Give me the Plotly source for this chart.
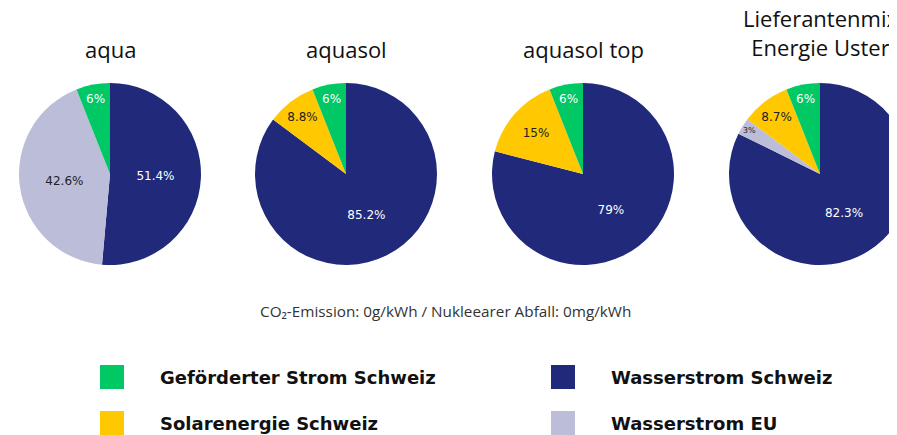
import plotly.graph_objects as go

# The page body adds an 8px offset; positions below are given in reference pixels
OFF = 8
W, H = 920, 435

categories = ["Wasserstrom Schweiz", "Wasserstrom EU", "Solarenergie Schweiz", "Geförderter Strom Schweiz"]
colors = ["#212A7A", "#BCBDD9", "#FFC800", "#00C864"]
text_colors = ["white", "#222222", "#222222", "white"]

products = ["aqua", "aquasol", "aquasol top", "Lieferantenmix<br>Energie Uster"]
aqua = [51.4, 42.6, 0, 6]
aquasol = [85.2, 0, 8.8, 6]
aquasol_top = [79, 0, 15, 6]
lieferantenmix = [82.3, 3, 8.7, 6]
series = [aqua, aquasol, aquasol_top, lieferantenmix]

subtitle = "CO₂-Emission: 0g/kWh / Nukleearer Abfall: 0mg/kWh"
legend_order = ["Geförderter Strom Schweiz", "Wasserstrom Schweiz", "Solarenergie Schweiz", "Wasserstrom EU"]


def px(x):
    return (x - OFF) / W


def py(y):
    return 1 - (y - OFF) / H


def fmt(v):
    return ("%g" % v) + "%"


centers_x = [110, 346, 583, 820]
cy = 174
R = 91

fig = go.Figure()
for i, vals in enumerate(series):
    cx = centers_x[i]
    fig.add_trace(go.Pie(
        values=vals,
        labels=categories,
        text=[fmt(v) for v in vals],
        textinfo="text",
        textposition="inside",
        insidetextorientation="horizontal",
        sort=False,
        direction="clockwise",
        rotation=0,
        marker=dict(colors=colors, line=dict(width=0)),
        insidetextfont=dict(color=text_colors, size=12, family="DejaVu Sans"),
        domain=dict(x=[px(cx - R), px(cx + R)], y=[py(cy + R), py(cy - R)]),
        showlegend=False,
        hoverinfo="label+percent",
    ))
    two_lines = "<br>" in products[i]
    fig.add_annotation(
        text=products[i], x=px(cx), y=py(64 if two_lines else 66),
        xref="paper", yref="paper", xanchor="center", yanchor="bottom",
        showarrow=False, font=dict(size=22, family="Open Sans", color="#111111"),
    )

fig.add_annotation(
    text=subtitle, x=px(445), y=py(311), xref="paper", yref="paper",
    xanchor="center", yanchor="middle", showarrow=False,
    font=dict(size=15.3, family="Open Sans", color="#333333"),
)

leg_pos = [(100, 158, 377), (551, 609, 377), (100, 158, 423), (551, 609, 423)]
for name, (sx, tx, ly) in zip(legend_order, leg_pos):
    c = colors[categories.index(name)]
    fig.add_shape(type="rect", xref="paper", yref="paper",
                  x0=px(sx), x1=px(sx + 24), y0=py(ly + 12), y1=py(ly - 12),
                  fillcolor=c, line=dict(width=0))
    fig.add_annotation(text="<b>" + name + "</b>", x=px(tx), y=py(ly),
                       xref="paper", yref="paper", xanchor="left", yanchor="middle",
                       showarrow=False, font=dict(size=18, family="DejaVu Sans", color="#111111"))

fig.update_layout(
    width=W, height=H,
    margin=dict(l=0, r=0, t=0, b=0),
    paper_bgcolor="white", plot_bgcolor="white",
)
fig.write_html("out.html")
